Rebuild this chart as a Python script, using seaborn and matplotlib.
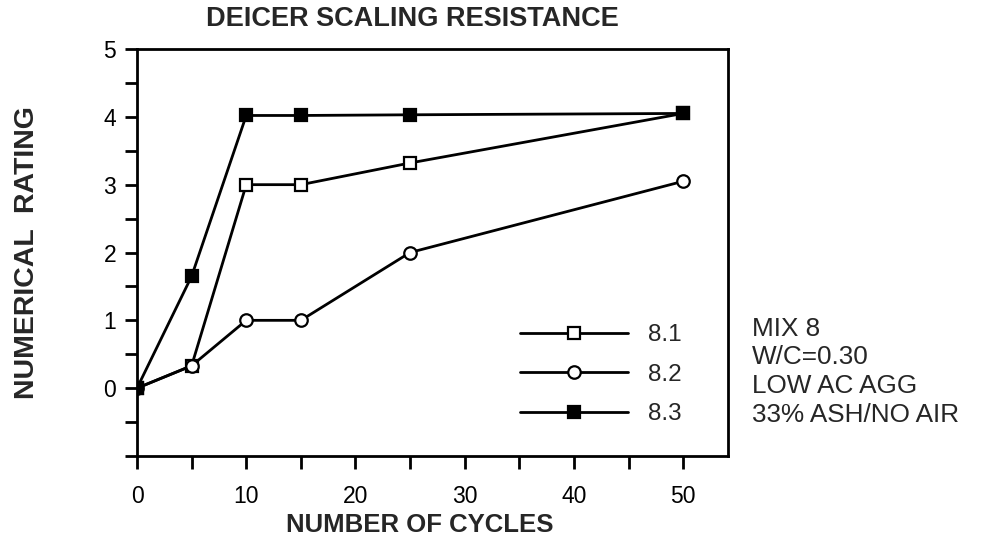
import matplotlib
matplotlib.use("Agg")
import matplotlib.pyplot as plt
import seaborn as sns
import pandas as pd
from matplotlib.ticker import MultipleLocator

cycles = [0, 5, 10, 15, 25, 50]
s81 = [0, 0.33, 3.0, 3.0, 3.32, 4.05]
s82 = [0, 0.33, 1.0, 1.0, 2.0, 3.05]
s83 = [0, 1.65, 4.02, 4.02, 4.03, 4.05]
series_names = ["8.1", "8.2", "8.3"]
xticks = [0, 10, 20, 30, 40, 50]
yticks = [0, 1, 2, 3, 4, 5]
notes = ["MIX 8", "W/C=0.30", "LOW AC AGG", "33% ASH/NO AIR"]

sns.set_theme(style="ticks")
plt.rcParams['font.family'] = ['Liberation Sans', 'DejaVu Sans']

fig = plt.figure(figsize=(9.81, 5.45), dpi=100)
ax = fig.add_axes([137/981, 1-456/545, (728-137)/981, (456-49)/545])

styles = [
    dict(marker="s", markerfacecolor="white"),
    dict(marker="o", markerfacecolor="white"),
    dict(marker="s", markerfacecolor="black"),
]
for name, vals, st in zip(series_names, [s81, s82, s83], styles):
    df = pd.DataFrame({"x": cycles, "y": vals})
    sns.lineplot(data=df, x="x", y="y", ax=ax, color="black", linewidth=2.0,
                 markersize=9, markeredgecolor="black", markeredgewidth=1.6,
                 label=name, **st)

ax.set_xlim(0, 54.1)
ax.set_ylim(-1, 5)
ax.set_xticks(xticks)
ax.set_yticks(yticks)
ax.xaxis.set_minor_locator(MultipleLocator(5))
ax.yaxis.set_minor_locator(MultipleLocator(0.5))
ax.tick_params(which="both", direction="out", width=2.0, length=9, labelsize=16.5, colors="black")
ax.tick_params(axis="x", pad=12)
ax.tick_params(axis="y", pad=6)
for sp in ax.spines.values():
    sp.set_linewidth(2.0)
    sp.set_color("black")
    sp.set_visible(True)

ax.set_xlabel("NUMBER OF CYCLES", fontsize=18.5, fontweight="bold")
ax.xaxis.set_label_coords((420-137)/591, (456-513)/407)
ax.set_ylabel("NUMERICAL  RATING", fontsize=20.5, fontweight="bold")
ax.yaxis.set_label_coords((40-137)/591, 0.5)
fig.text(412/981, 1-19/545, "DEICER SCALING RESISTANCE", fontsize=19.5, fontweight="bold",
         ha="center", va="center")

leg = ax.legend(loc="upper left", bbox_to_anchor=(0.648, 0.324), frameon=False,
                fontsize=17.5, handlelength=4.45, handletextpad=0.8, labelspacing=0.72,
                borderpad=0, borderaxespad=0, numpoints=1)

for i, t in enumerate(notes):
    fig.text(752/981, 1-(329+28.5*i)/545, t, fontsize=18.8, ha="left", va="center")

fig.savefig("out.png", dpi=100)
